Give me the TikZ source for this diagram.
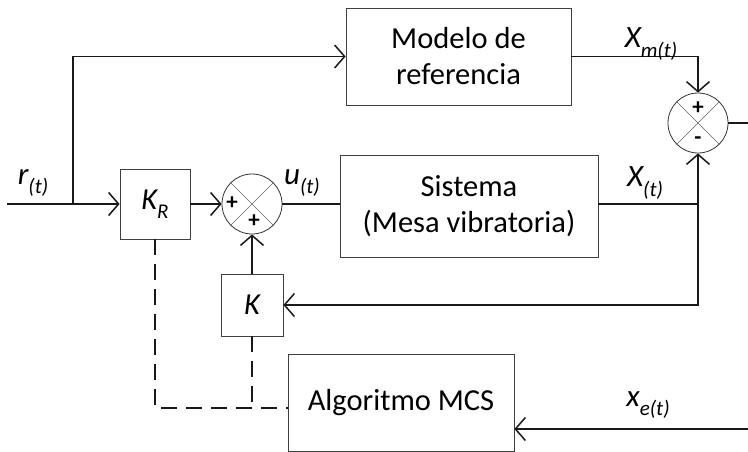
\documentclass[tikz,border=0pt]{standalone}
\usepackage{fontspec}
\setmainfont{Carlito}
\usetikzlibrary{arrows.meta,calc}
\newcommand{\mylab}[2]{{\itshape #1\raisebox{-0.3em}{\fontsize{21}{21}\selectfont #2}}}
\begin{document}
\begin{tikzpicture}[x=1pt,y=-1pt,
  blk/.style={draw=black!75, line width=0.8pt, inner sep=0pt, align=center,
    font=\fontsize{30.5}{36}\selectfont},
  sumc/.style={circle, draw=black!80, line width=0.8pt, minimum size=60pt, inner sep=0pt},
  cross/.style={draw=black!60, line width=0.7pt},
  sgn/.style={font=\fontsize{23}{23}\selectfont\bfseries, inner sep=0pt},
  wire/.style={line width=1.8pt, draw=black!90},
  conn/.style={wire, -{Straight Barb[length=10pt,width=23pt,line width=1.5pt]}},
  dsh/.style={line width=1.9pt, draw=black!90, dash pattern=on 16pt off 9pt},
  lbl/.style={font=\fontsize{31}{32}\selectfont, inner sep=0pt}]
\useasboundingbox (0,0) rectangle (748,452);

% blocks
\node[blk, minimum width=225pt, minimum height=97pt] (model) at (458.5,56.5) {Modelo de\\referencia};
\node[blk, minimum width=258pt, minimum height=102pt] (sys) at (469,206) {Sistema\\(Mesa vibratoria)};
\node[blk, minimum width=70pt, minimum height=70pt] (kr) at (155,204) {\mylab{K}{R}};
\node[blk, minimum width=62pt, minimum height=62pt] (k) at (252,305) {\itshape K};
\node[blk, minimum width=226pt, minimum height=97pt] (algo) at (401,402.5) {Algoritmo MCS};

% summing junctions
\node[sumc] (s1) at (252,204) {};
\draw[cross] (s1.north east) -- (s1.south west) (s1.north west) -- (s1.south east);
\node[sgn] at ($(s1)+(-20,-1)$) {+};
\node[sgn] at ($(s1)+(2,17)$) {+};
\node[sumc] (s2) at (698,123) {};
\draw[cross] (s2.north east) -- (s2.south west) (s2.north west) -- (s2.south east);
\node[sgn] at ($(s2)+(0,-15)$) {+};
\node[sgn] at ($(s2)+(0,18)$) {-};

% coordinates
\coordinate (in) at (7,204);
\coordinate (br) at (73,204);
\coordinate (jx) at (698,204);
\coordinate (out) at (748,123);
\coordinate (xe) at (748,429);
\coordinate (dl) at (0,408);

% connectors
\draw[conn] (in) -- (kr.west);
\draw[conn] (br) |- (model.west);
\draw[conn] (kr.east) -- (s1.west);
\draw[wire] (s1.east) -- (s1.east -| sys.west);
\draw[wire] (s1 -| sys.east) -- (jx);
\draw[conn] (jx) -- (s2.south);
\draw[conn] (jx) |- (k.east);
\draw[conn] (k.north) -- (s1.south);
\draw[conn] (model.east) -| (s2.north);
\draw[wire] (s2.east) -- (out);
\draw[conn] (xe) -- (xe -| algo.east);
\draw[dsh] (kr.south) |- (algo.west |- dl);
\draw[dsh] (k.south) -- (k.south |- dl);

% labels
\node[lbl] at (33,183) {\mylab{r}{(t)}};
\node[lbl] at (302,183) {\mylab{u}{(t)}};
\node[lbl] at (645,183) {\mylab{X}{(t)}};
\node[lbl] at (651,44) {\mylab{X}{m(t)}};
\node[lbl] at (648,405) {\mylab{x}{e(t)}};
\end{tikzpicture}
\end{document}
